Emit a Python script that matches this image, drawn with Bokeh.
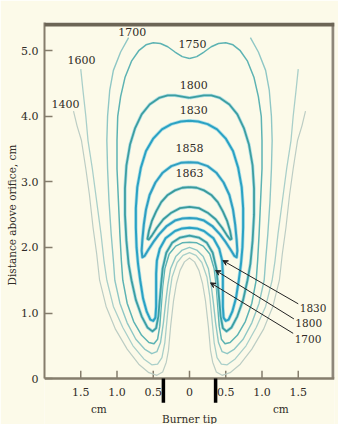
from bokeh.plotting import figure
from bokeh.models import Range1d, FixedTicker, Span, Arrow, VeeHead, Title
from bokeh.core.properties import value
from bokeh.embed import file_html
from bokeh.resources import INLINE

# ---------------- data (cm) ----------------
# right halves of each isotherm; mirrored for the left half
c1400_x = [1.6, 1.55, 1.49, 1.43, 1.38, 1.33, 1.28, 1.24, 1.15, 1.02, 0.86, 0.7, 0.56, 0.45, 0.37, 0.32, 0.29, 0.26, 0.22, 0.18, 0.13, 0.07, 0.0]
c1400_y = [4.08, 3.85, 3.63, 3.2, 2.8, 2.3, 1.9, 1.5, 1.1, 0.75, 0.45, 0.22, 0.09, 0.05, 0.1, 0.25, 0.43, 0.8, 1.19, 1.45, 1.65, 1.78, 1.84]
c1600_x = [1.5, 1.47, 1.43, 1.4, 1.34, 1.28, 1.22, 1.18, 1.14, 1.05, 0.92, 0.78, 0.63, 0.52, 0.44, 0.38, 0.34, 0.31, 0.28, 0.24, 0.17, 0.09, 0.0]
c1600_y = [4.72, 4.4, 4.0, 3.63, 3.2, 2.7, 2.2, 1.8, 1.5, 1.1, 0.78, 0.5, 0.3, 0.21, 0.22, 0.32, 0.55, 0.9, 1.25, 1.55, 1.77, 1.88, 1.92]
c1700_x = [0.84, 0.95, 1.05, 1.1, 1.13, 1.14, 1.13, 1.11, 1.08, 1.05, 1.03, 0.96, 0.86, 0.74, 0.62, 0.52, 0.45, 0.4, 0.36, 0.33, 0.3, 0.26, 0.19, 0.1, 0.0]
c1700_y = [5.2, 4.98, 4.7, 4.4, 4.0, 3.63, 3.2, 2.7, 2.2, 1.8, 1.5, 1.15, 0.85, 0.6, 0.45, 0.38, 0.41, 0.55, 0.85, 1.15, 1.42, 1.68, 1.86, 1.96, 2.0]
c1750_x = [0.0, 0.1, 0.2, 0.3, 0.4, 0.5, 0.6, 0.7, 0.8, 0.89, 0.95, 0.99, 1.0, 1.0, 0.98, 0.96, 0.94, 0.92, 0.86, 0.77, 0.66, 0.56, 0.49, 0.44, 0.41, 0.39, 0.37, 0.34, 0.28, 0.19, 0.1, 0.0]
c1750_y = [4.88, 4.91, 4.98, 5.06, 5.11, 5.12, 5.09, 5.0, 4.84, 4.59, 4.3, 4.0, 3.63, 3.2, 2.7, 2.2, 1.8, 1.5, 1.15, 0.87, 0.66, 0.55, 0.53, 0.6, 0.8, 1.1, 1.4, 1.68, 1.9, 2.02, 2.07, 2.08]
c1800_x = [0.0, 0.1, 0.2, 0.3, 0.42, 0.55, 0.66, 0.75, 0.82, 0.87, 0.89, 0.89, 0.87, 0.84, 0.8, 0.74, 0.66, 0.58, 0.51, 0.46, 0.43, 0.41, 0.39, 0.37, 0.32, 0.24, 0.13, 0.0]
c1800_y = [4.28, 4.3, 4.32, 4.32, 4.28, 4.18, 4.03, 3.82, 3.57, 3.25, 2.9, 2.5, 2.1, 1.75, 1.5, 1.2, 0.95, 0.78, 0.72, 0.77, 0.95, 1.2, 1.45, 1.68, 1.92, 2.07, 2.15, 2.18]
c1830_x = [0.0, 0.12, 0.25, 0.38, 0.5, 0.6, 0.67, 0.72, 0.74, 0.74, 0.73, 0.71, 0.68, 0.64, 0.59, 0.54, 0.5, 0.47, 0.46, 0.46, 0.46, 0.45, 0.41, 0.33, 0.2, 0.1, 0.0]
c1830_y = [3.93, 3.92, 3.88, 3.8, 3.66, 3.47, 3.22, 2.92, 2.6, 2.3, 2.0, 1.75, 1.5, 1.22, 1.02, 0.9, 0.88, 0.93, 1.1, 1.35, 1.6, 1.8, 1.98, 2.14, 2.25, 2.29, 2.3]
c1858_x = [0.0, 0.12, 0.25, 0.37, 0.47, 0.55, 0.6, 0.63, 0.65, 0.66, 0.65, 0.62, 0.57, 0.5, 0.42, 0.32, 0.2, 0.1, 0.0]
c1858_y = [3.3, 3.29, 3.24, 3.14, 2.99, 2.8, 2.58, 2.35, 2.12, 1.95, 1.85, 1.87, 1.96, 2.08, 2.2, 2.32, 2.41, 2.44, 2.45]
c1863_x = [0.0, 0.1, 0.2, 0.3, 0.39, 0.46, 0.52, 0.56, 0.58, 0.56, 0.52, 0.45, 0.36, 0.25, 0.13, 0.0]
c1863_y = [2.92, 2.91, 2.87, 2.8, 2.69, 2.55, 2.4, 2.25, 2.13, 2.12, 2.18, 2.3, 2.43, 2.53, 2.6, 2.62]

open_isotherms = ["1400", "1600", "1700"]
closed_isotherms = ["1750", "1800", "1830", "1858", "1863"]

label_text = ["1400", "1600", "1700", "1750", "1800", "1830", "1858", "1863"]
label_x = [-1.71, -1.49, -0.79, 0.04, 0.06, 0.06, 0.0, 0.0]
label_y = [4.19, 4.86, 5.29, 5.1, 4.47, 4.09, 3.52, 3.14]

arrow_text = ["1830", "1800", "1700"]
arrow_tail_x = [1.5, 1.44, 1.43]
arrow_tail_y = [1.14, 0.91, 0.69]
arrow_head_x = [0.46, 0.36, 0.29]
arrow_head_y = [1.8, 1.65, 1.46]
arrow_label_x = [1.52, 1.46, 1.45]
arrow_label_y = [1.07, 0.85, 0.61]

x_ticks = [-1.5, -1.0, -0.5, 0.0, 0.5, 1.0, 1.5]
x_tick_labels = ["1.5", "1.0", "0.5", "0", "0.5", "1.0", "1.5"]
y_ticks = [0, 1, 2, 3, 4, 5]
y_tick_labels = ["0", "1.0", "2.0", "3.0", "4.0", "5.0"]
burner_x = [-0.36, 0.36]
cm_x = [-1.25, 1.26]

# ---------------- styling ----------------
curves = {"1400": c1400_x, "1600": c1600_x, "1700": c1700_x, "1750": c1750_x,
          "1800": c1800_x, "1830": c1830_x, "1858": c1858_x, "1863": c1863_x}
curves_y = {"1400": c1400_y, "1600": c1600_y, "1700": c1700_y, "1750": c1750_y,
            "1800": c1800_y, "1830": c1830_y, "1858": c1858_y, "1863": c1863_y}
colors = {"1400": "#bccdc4", "1600": "#a9cfc9", "1700": "#8fc7c5", "1750": "#5db3b3",
          "1800": "#3d9ea0", "1830": "#2aa2c3", "1858": "#2f9fc0", "1863": "#3b9a99"}
widths = {"1400": 1.2, "1600": 1.3, "1700": 1.4, "1750": 1.5,
          "1800": 1.8, "1830": 2.0, "1858": 2.0, "1863": 1.8}
halo = {"1750": 0.0, "1800": 1.5, "1830": 1.5, "1858": 1.5, "1863": 1.5}

BG = "#fcfae9"
AX = "#857d6c"
TXT = "#2f2b26"
FONT = "DejaVu Serif"
FS = "11px"

X_MIN, X_MAX = -2.0, 2.0
Y_MIN, Y_TOP = -0.70, 5.43

p = figure(width=338, height=424, output_backend="svg", toolbar_location=None,
           x_range=Range1d(X_MIN, X_MAX), y_range=Range1d(Y_MIN, Y_TOP),
           x_axis_location=None, min_border_left=44, min_border_right=4,
           min_border_top=22, min_border_bottom=0)
p.background_fill_color = BG
p.border_fill_color = BG
p.outline_line_color = None
p.grid.visible = False

yax = p.yaxis[0]
yax.ticker = FixedTicker(ticks=y_ticks)
yax.major_label_overrides = {t: l for t, l in zip(y_ticks, y_tick_labels)}
yax.bounds = (0, Y_TOP)
yax.axis_line_color = AX
yax.axis_line_width = 2
yax.major_tick_in = 8
yax.major_tick_out = 0
yax.major_tick_line_color = AX
yax.major_tick_line_width = 1.5
yax.minor_tick_line_color = None
yax.major_label_standoff = 6
yax.major_label_text_font = FONT
yax.major_label_text_font_size = FS
yax.major_label_text_font_style = "normal"
yax.major_label_text_color = TXT

p.add_layout(Title(text="Distance above orifice, cm", align="left", offset=139, standoff=2,
                   text_font=FONT, text_font_size="10.5px", text_font_style="normal",
                   text_color=TXT), "left")

# frame: thick top, right border, bottom axis
p.add_layout(Span(location=Y_TOP - 0.03, dimension="width", line_color="#6c6556", line_width=4))
p.segment(x0=[X_MAX - 0.02], y0=[0], x1=[X_MAX - 0.02], y1=[Y_TOP], line_color="#8e877a", line_width=3)
p.segment(x0=[X_MIN], y0=[0], x1=[X_MAX], y1=[0], line_color=AX, line_width=2.5)

# x ticks (inward) and labels
p.segment(x0=x_ticks, y0=[0] * len(x_ticks), x1=x_ticks, y1=[0.12] * len(x_ticks), line_color=AX, line_width=1.5)
p.text(x=x_ticks, y=[-0.21] * len(x_ticks), text=x_tick_labels, text_font=value(FONT),
       text_font_size=FS, text_color=TXT, text_align="center", text_baseline="middle")
p.text(x=cm_x, y=[-0.47, -0.47], text=["cm", "cm"], text_font=value(FONT),
       text_font_size="10.5px", text_color=TXT, text_align="center", text_baseline="middle")
p.segment(x0=burner_x, y0=[0, 0], x1=burner_x, y1=[-0.37, -0.37], line_color="black", line_width=3.5)
p.text(x=[0], y=[-0.61], text=["Burner tip"], text_font=value(FONT),
       text_font_size="10.5px", text_color=TXT, text_align="center", text_baseline="middle")

# isotherms
for name in open_isotherms + closed_isotherms:
    rx, ry = curves[name], curves_y[name]
    if name in open_isotherms:
        xs = [-v for v in rx] + list(reversed(rx))
        ys = list(ry) + list(reversed(ry))
    else:
        xs = list(rx) + [-v for v in reversed(rx)]
        ys = list(ry) + list(reversed(ry))
    if halo.get(name, 0) > 0:
        p.line(xs, ys, line_color="#9ad8e6", line_alpha=0.8,
               line_width=widths[name] + halo[name], line_join="round")
    p.line(xs, ys, line_color=colors[name], line_width=widths[name], line_join="round")

# isotherm labels
p.text(x=label_x, y=label_y, text=label_text, text_font=value(FONT), text_font_size=FS,
       text_color=TXT, text_align="center", text_baseline="middle")

# arrows with labels
for tx, ty, hx, hy in zip(arrow_tail_x, arrow_tail_y, arrow_head_x, arrow_head_y):
    p.add_layout(Arrow(x_start=tx, y_start=ty, x_end=hx, y_end=hy, line_color="#222222", line_width=1,
                       end=VeeHead(size=5, line_color="#222222", fill_color="#222222", line_width=1)))
p.text(x=arrow_label_x, y=arrow_label_y, text=arrow_text, text_font=value(FONT), text_font_size="10.5px",
       text_color=TXT, text_align="left", text_baseline="middle")

open("out.html", "w").write(file_html(p, INLINE))
